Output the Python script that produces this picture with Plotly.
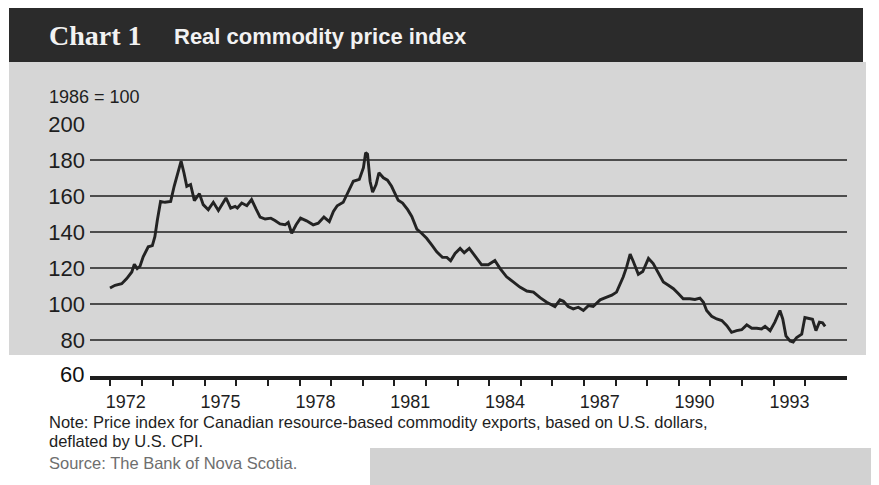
import plotly.graph_objects as go

# Real commodity price index (1986 = 100)
years = [
    1972.00, 1972.16, 1972.37, 1972.53, 1972.69, 1972.77, 1972.86, 1972.95,
    1973.05, 1973.21, 1973.34, 1973.42, 1973.50, 1973.60, 1973.74, 1973.92,
    1974.03, 1974.16, 1974.25, 1974.34, 1974.43, 1974.55, 1974.67, 1974.83,
    1974.95, 1975.11, 1975.27, 1975.43, 1975.57, 1975.67, 1975.82, 1975.96,
    1976.03, 1976.17, 1976.33, 1976.48, 1976.62, 1976.75, 1976.91, 1977.09,
    1977.22, 1977.38, 1977.54, 1977.64, 1977.75, 1977.89, 1978.03, 1978.22,
    1978.43, 1978.59, 1978.77, 1978.94, 1979.07, 1979.19, 1979.38, 1979.54,
    1979.70, 1979.89, 1980.02, 1980.09, 1980.15, 1980.23, 1980.31, 1980.42,
    1980.51, 1980.65, 1980.78, 1980.91, 1981.02, 1981.12, 1981.26, 1981.42,
    1981.55, 1981.71, 1981.86, 1982.02, 1982.18, 1982.34, 1982.52, 1982.66,
    1982.78, 1982.92, 1983.08, 1983.21, 1983.37, 1983.60, 1983.76, 1983.97,
    1984.18, 1984.34, 1984.55, 1984.76, 1984.97, 1985.19, 1985.40, 1985.61,
    1985.82, 1986.08, 1986.24, 1986.35, 1986.50, 1986.66, 1986.82, 1986.98,
    1987.14, 1987.29, 1987.51, 1987.72, 1987.88, 1988.03, 1988.24, 1988.35,
    1988.46, 1988.56, 1988.72, 1988.86, 1989.04, 1989.19, 1989.35, 1989.51,
    1989.67, 1989.83, 1989.99, 1990.14, 1990.35, 1990.51, 1990.67, 1990.78,
    1990.88, 1991.04, 1991.20, 1991.36, 1991.52, 1991.67, 1991.83, 1991.99,
    1992.15, 1992.31, 1992.47, 1992.62, 1992.73, 1992.89, 1993.04, 1993.20,
    1993.29, 1993.39, 1993.52, 1993.62, 1993.73, 1993.89, 1993.99, 1994.10,
    1994.23, 1994.34, 1994.45, 1994.55, 1994.63,
]
index_values = [
    108.9, 110.4, 111.3, 114.1, 117.8, 122.1, 119.7, 121.0,
    126.2, 131.8, 132.4, 137.4, 146.8, 157.0, 156.5, 157.0,
    165.4, 173.8, 179.4, 172.9, 165.4, 166.4, 157.4, 161.3,
    155.2, 152.4, 156.5, 152.0, 156.1, 158.9, 153.3, 154.2,
    153.3, 156.1, 154.6, 158.0, 152.8, 148.3, 147.2, 147.7,
    146.4, 144.5, 144.0, 145.3, 139.3, 144.0, 147.7, 146.2,
    144.0, 144.9, 148.3, 145.8, 151.4, 154.6, 156.5, 162.6,
    168.2, 169.2, 175.7, 184.1, 183.2, 168.2, 162.1, 166.4,
    172.9, 170.1, 168.8, 165.4, 161.7, 157.6, 156.1, 152.4,
    148.6, 141.6, 139.3, 136.5, 132.8, 129.0, 125.9, 125.9,
    124.0, 128.1, 130.9, 128.5, 130.9, 125.5, 121.8, 121.8,
    124.2, 119.8, 115.1, 112.3, 109.4, 107.2, 106.6, 103.5,
    101.0, 98.6, 102.3, 101.5, 98.6, 97.3, 98.2, 96.4,
    99.1, 98.6, 102.3, 103.8, 104.9, 106.6, 115.0, 120.6,
    127.7, 123.6, 116.5, 118.0, 125.3, 122.5, 116.9, 112.2,
    110.4, 108.5, 105.7, 102.9, 102.9, 102.5, 103.3, 101.0,
    96.4, 93.2, 91.7, 90.8, 88.0, 84.3, 85.2, 85.7,
    88.4, 86.5, 86.5, 86.1, 87.6, 85.2, 89.9, 96.4,
    91.7, 82.3, 79.5, 78.9, 81.4, 83.2, 92.5, 91.9,
    91.5, 85.2, 89.9, 89.5, 87.6,
]

y_ticks = [80, 100, 120, 140, 160, 180, 200]
label_years = [1972, 1975, 1978, 1981, 1984, 1987, 1990, 1993]
tick_years = list(range(1972, 1995))

# the page body has an 8px margin, so the figure starts at (8, 8)
OFF = 8
W, H = 879 - OFF, 485 - OFF
# plot area in pixels of the reference page
L, R, T, B = 90, 847, 124, 376


def px(x):
    return (x - L) / (R - L)


def py(y):
    return (B - y) / (B - T)


INK = "#1e1e1e"
SANS = "Liberation Sans, Arial, sans-serif"

fig = go.Figure()
fig.add_trace(go.Scatter(
    x=years, y=index_values, mode="lines",
    line=dict(color="#232323", width=2.9),
    hoverinfo="x+y",
))

# header bar, grey paper, lower right grey patch
fig.add_shape(type="rect", xref="paper", yref="paper",
              x0=px(9), x1=px(863), y0=py(62), y1=py(8),
              fillcolor="#2b2b2b", line_width=0, layer="below")
fig.add_shape(type="rect", xref="paper", yref="paper",
              x0=px(9), x1=px(866), y0=py(355), y1=py(62),
              fillcolor="#d6d6d6", line_width=0, layer="below")
fig.add_shape(type="rect", xref="paper", yref="paper",
              x0=px(370), x1=px(879), y0=py(485), y1=py(448),
              fillcolor="#d2d2d2", line_width=0, layer="below")

notes = [
    (px(47), py(36), "<b>Chart 1</b>", dict(family="Liberation Serif, serif", size=28, color="#f2f2f2")),
    (px(172), py(37), "<b>Real commodity price index</b>", dict(family=SANS, size=22, color="#f2f2f2")),
    (px(47), py(97), "1986 = 100", dict(family=SANS, size=18, color=INK)),
    (px(47), py(422), "Note: Price index for Canadian resource-based commodity exports, based on U.S. dollars,",
     dict(family=SANS, size=16.5, color=INK)),
    (px(47), py(441), "deflated by U.S. CPI.", dict(family=SANS, size=16.5, color=INK)),
    (px(47), py(463), "Source: The Bank of Nova Scotia.", dict(family=SANS, size=16.5, color="#6e6e6e")),
]
for x, y, text, font in notes:
    fig.add_annotation(x=x, y=y, xref="paper", yref="paper", text=text,
                       showarrow=False, xanchor="left", yanchor="middle", font=font)

fig.add_annotation(x=px(86), y=py(374), xref="paper", yref="paper", text="60",
                   showarrow=False, xanchor="right", yanchor="middle",
                   font=dict(family=SANS, size=22, color="#111111"))

fig.update_xaxes(
    range=[1972 - 20 / 31.6, 1972 + 737 / 31.6],
    tickvals=[y + 0.5 for y in label_years],
    ticktext=[str(y) for y in label_years],
    ticks="", showgrid=False, zeroline=False,
    showline=True, linecolor=INK, linewidth=4,
    tickfont=dict(family=SANS, size=18, color=INK),
    ticklabelstandoff=6,
    minor=dict(tickvals=tick_years, ticks="outside", ticklen=6,
               tickwidth=2, tickcolor=INK, showgrid=False),
)
fig.update_yaxes(
    range=[60, 200], tickvals=y_ticks,
    ticks="", showgrid=True, gridcolor="#4d4d4d", gridwidth=1.5,
    zeroline=False, showline=False,
    tickfont=dict(family=SANS, size=22, color=INK),
    ticklabelstandoff=4,
)
fig.update_layout(
    width=W, height=H, autosize=False,
    margin=dict(l=L - OFF, r=879 - R, t=T - OFF, b=485 - B),
    paper_bgcolor="white", plot_bgcolor="rgba(0,0,0,0)",
    showlegend=False,
)

fig.write_html("out.html")
